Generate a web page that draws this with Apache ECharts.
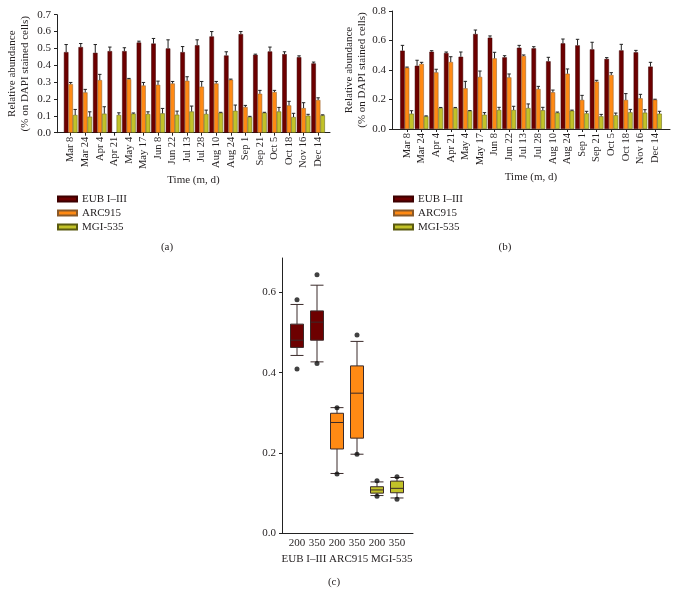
<!DOCTYPE html>
<html>
<head>
<meta charset="utf-8">
<script src="https://cdn.jsdelivr.net/npm/echarts@6/dist/echarts.min.js"></script>
<style>html,body{margin:0;padding:0;background:#fff}#c{width:673px;height:593px}</style>
</head>
<body>
<div id="c"></div>
<script>
// ---------- data ----------
const dates = ['Mar 8','Mar 24','Apr 4','Apr 21','May 4','May 17','Jun 8','Jun 22','Jul 13','Jul 28','Aug 10','Aug 24','Sep 1','Sep 21','Oct 5','Oct 18','Nov 16','Dec 14'];
const seriesNames = ['EUB I–III','ARC915','MGI-535'];

// panel (a)
const eubA    = [0.478,0.508,0.474,0.484,0.484,0.535,0.529,0.500,0.478,0.519,0.571,0.458,0.585,0.462,0.482,0.466,0.448,0.411];
const eubAErr = [0.045,0.021,0.049,0.024,0.020,0.008,0.030,0.051,0.033,0.032,0.029,0.022,0.015,0.004,0.026,0.014,0.008,0.008];
const arcA    = [0.288,0.239,0.312,null,0.318,0.280,0.284,0.292,0.308,0.273,0.292,0.314,0.152,0.231,0.241,0.162,0.146,0.194];
const arcAErr = [0.010,0.018,0.034,null,0.004,0.018,0.022,0.012,0.024,0.031,0.012,0.004,0.010,0.020,0.010,0.024,0.032,0.013];
const mgiA    = [0.105,0.095,0.113,0.105,0.113,0.111,0.115,0.107,0.126,0.111,0.118,0.130,0.093,0.118,0.126,0.093,0.101,0.103];
const mgiAErr = [0.033,0.029,0.041,0.013,0.004,0.013,0.029,0.021,0.032,0.023,0.003,0.034,0.004,0.003,0.024,0.022,0.008,0.003];

// panel (b)
const eubB    = [0.531,0.429,0.524,0.515,0.490,0.644,0.619,0.486,0.551,0.547,0.459,0.581,0.567,0.540,0.475,0.533,0.520,0.423];
const eubBErr = [0.036,0.037,0.007,0.007,0.032,0.027,0.012,0.011,0.016,0.011,0.027,0.029,0.041,0.048,0.009,0.041,0.013,0.029];
const arcB    = [0.416,0.441,0.384,0.454,0.276,0.353,0.479,0.350,0.495,0.271,0.249,0.375,0.197,0.321,0.366,0.197,0.208,0.199];
const arcBErr = [0.004,0.011,0.021,0.036,0.047,0.040,0.041,0.023,0.007,0.018,0.015,0.032,0.031,0.009,0.016,0.043,0.027,0.003];
const mgiB    = [0.104,0.086,0.142,0.142,0.122,0.097,0.129,0.129,0.142,0.127,0.111,0.124,0.106,0.086,0.093,0.113,0.111,0.104];
const mgiBErr = [0.020,0.003,0.004,0.004,0.003,0.014,0.018,0.025,0.028,0.020,0.004,0.004,0.014,0.013,0.015,0.020,0.020,0.016];

// panel (c)
const boxCats = ['200','350','200','350','200','350'];
const boxGroups = ['EUB I–III','ARC915','MGI-535'];
// [low whisker, Q1, median, Q3, high whisker]
const boxStats = [
  [0.443,0.463,0.481,0.521,0.570],
  [0.427,0.481,0.526,0.554,0.618],
  [0.149,0.210,0.276,0.299,0.313],
  [0.197,0.237,0.349,0.417,0.478],
  [0.094,0.100,0.108,0.116,0.128],
  [0.088,0.101,0.112,0.130,0.139]
];
const boxOutliers = [[0,0.582],[0,0.409],[1,0.644],[1,0.423],[2,0.313],[2,0.148],[3,0.494],[3,0.197],[4,0.131],[4,0.092],[5,0.141],[5,0.085]];

const yTicksA = [0,0.1,0.2,0.3,0.4,0.5,0.6,0.7];
const yTicksB = [0,0.2,0.4,0.6,0.8];
const yTicksC = [0,0.2,0.4,0.6];

// ---------- style ----------
const FONT = '"Liberation Serif","DejaVu Serif",serif';
const TXT = '#231f20';
const COLORS = ['#6d0000','#ff8a14','#c2c228'];
const BORDERS = ['#3d0000','#8a5a2a','#5a5a10'];
const BAR_FRAC = 0.31;

const chart = echarts.init(document.getElementById('c'), null, {renderer:'canvas'});

function frameX(grid, name, gap){
  return {gridIndex:grid, type:'value', min:0, max:1, name:name, nameLocation:'middle', nameGap:gap,
    nameTextStyle:{fontFamily:FONT,fontSize:11,color:TXT},
    axisLine:{show:true,lineStyle:{color:'#222',width:1}}, axisTick:{show:false}, axisLabel:{show:false}, splitLine:{show:false}};
}
function catX(grid){
  return {gridIndex:grid, type:'category', data:dates, axisLine:{show:false},
    axisTick:{show:true, alignWithLabel:true, length:3, lineStyle:{color:'#222'}},
    axisLabel:{interval:0, rotate:90, margin:4, fontFamily:FONT, fontSize:10.5, color:TXT}};
}
function frameY(grid, max, ticks, name, gap){
  return {gridIndex:grid, type:'value', min:0, max:max, name:name, nameLocation:'middle', nameRotate:90, nameGap:gap,
    nameTextStyle:{fontFamily:FONT,fontSize:11,color:TXT,lineHeight:12.5},
    axisLine:{show:true,lineStyle:{color:'#222',width:1}},
    axisTick:{show:true,length:3,customValues:ticks,lineStyle:{color:'#222'}},
    axisLabel:{customValues:ticks, margin:6, fontFamily:FONT, fontSize:11, color:TXT, formatter:v=>v.toFixed(1)},
    splitLine:{show:false}};
}
function hiddenY(grid, max){
  return {gridIndex:grid, type:'value', min:0, max:max, show:false, splitLine:{show:false}};
}
function barSeries(k, data, xi, yi){
  return {type:'bar', name:seriesNames[k], xAxisIndex:xi, yAxisIndex:yi, data:data,
    barWidth:(BAR_FRAC*100)+'%', barGap:'0%', z:2,
    itemStyle:{color:COLORS[k], borderColor:BORDERS[k], borderWidth:0.5}};
}
function errSeries(k, vals, errs, xi, yi){
  const d = vals.map((v,i)=> v==null ? null : [i, v, errs[i]]).filter(Boolean);
  return {type:'custom', name:'err'+k, xAxisIndex:xi, yAxisIndex:yi, data:d, z:5, silent:true,
    encode:{x:0,y:1},
    renderItem:function(params, api){
      const i = api.value(0), v = api.value(1), e = api.value(2);
      const p0 = api.coord([i, v]);
      const p1 = api.coord([i, v+e]);
      const bw = api.size([1,0])[0]*BAR_FRAC;
      const x = p0[0] + (k-1)*bw;
      const cap = 1.7;
      return {type:'group', children:[
        {type:'line', shape:{x1:x,y1:p0[1],x2:x,y2:p1[1]}, style:{stroke:'#222',lineWidth:1}},
        {type:'line', shape:{x1:x-cap,y1:p1[1],x2:x+cap,y2:p1[1]}, style:{stroke:'#222',lineWidth:1}}
      ]};
    }};
}
function legend(left){
  return {left:left, top:193, padding:0, orient:'vertical', itemWidth:19, itemHeight:5, itemGap:2,
    data:seriesNames, icon:'rect', selectedMode:false,
    textStyle:{fontFamily:FONT,fontSize:11,color:TXT,lineHeight:12}};
}

const yName = 'Relative abundance\n(% on DAPI stained cells)';

const option = {
  animation:false,
  backgroundColor:'#fff',
  grid:[
    {left:57,   top:14.7, width:273,   height:118},   // 0 frame a
    {left:63.4, top:14.7, width:262,   height:118},   // 1 bars a
    {left:392,  top:11,   width:278,   height:118},   // 2 frame b
    {left:399.7,top:11,   width:262.6, height:118},   // 3 bars b
    {left:287,  top:260.3,width:120,   height:273},   // 4 boxes c
    {left:282,  top:258,  width:131,   height:275.3}  // 5 frame c
  ],
  xAxis:[
    frameX(0,'Time (m, d)',42),
    catX(1),
    frameX(2,'Time (m, d)',43),
    catX(3),
    {gridIndex:4, type:'category', data:boxCats, axisLine:{show:false}, axisTick:{show:false},
      name:boxGroups.join(' '), nameLocation:'middle', nameGap:20,
      nameTextStyle:{fontFamily:FONT,fontSize:11,color:TXT},
      axisLabel:{interval:0, margin:4, fontFamily:FONT, fontSize:11, color:TXT}},
    frameX(5,'',0)
  ],
  yAxis:[
    frameY(0,0.7,yTicksA,yName,26),
    hiddenY(1,0.7),
    frameY(2,0.8,yTicksB,yName,24),
    hiddenY(3,0.8),
    hiddenY(4,0.68),
    frameY(5,0.6857,yTicksC,'',0)
  ],
  legend:[legend(57), legend(393)],
  graphic:[
    {type:'text', x:167, y:247, style:{text:'(a)', fontFamily:FONT, fontSize:11, fill:TXT, align:'center', verticalAlign:'middle'}},
    {type:'text', x:505, y:247, style:{text:'(b)', fontFamily:FONT, fontSize:11, fill:TXT, align:'center', verticalAlign:'middle'}},
    {type:'text', x:334, y:582, style:{text:'(c)', fontFamily:FONT, fontSize:11, fill:TXT, align:'center', verticalAlign:'middle'}}
  ],
  series:[
    barSeries(0, eubA, 1, 1), barSeries(1, arcA, 1, 1), barSeries(2, mgiA, 1, 1),
    errSeries(0, eubA, eubAErr, 1, 1), errSeries(1, arcA, arcAErr, 1, 1), errSeries(2, mgiA, mgiAErr, 1, 1),
    barSeries(0, eubB, 3, 3), barSeries(1, arcB, 3, 3), barSeries(2, mgiB, 3, 3),
    errSeries(0, eubB, eubBErr, 3, 3), errSeries(1, arcB, arcBErr, 3, 3), errSeries(2, mgiB, mgiBErr, 3, 3),
    {type:'boxplot', name:'box', xAxisIndex:4, yAxisIndex:4, boxWidth:[13,13],
      data: boxStats.map((s,i)=>({value:s, itemStyle:{color:COLORS[Math.floor(i/2)], borderColor:'#3a2a2a', borderWidth:1}}))},
    {type:'scatter', name:'outliers', xAxisIndex:4, yAxisIndex:4, data:boxOutliers, symbolSize:5,
      itemStyle:{color:'#111'}, z:5}
  ]
};
chart.setOption(option);
</script>
</body>
</html>
